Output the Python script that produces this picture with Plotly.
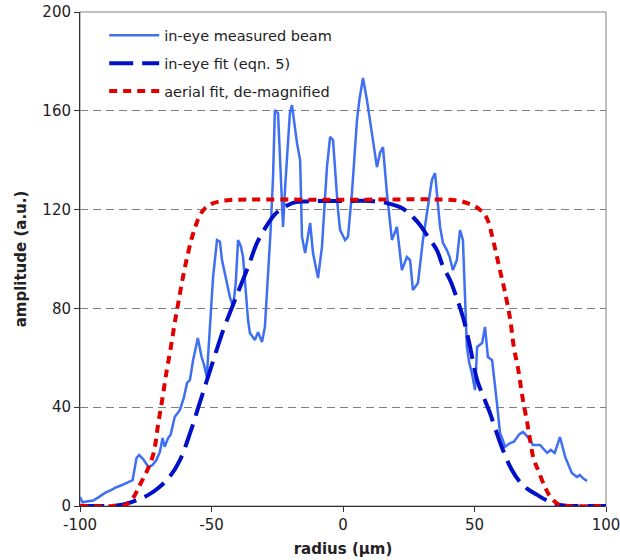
import plotly.graph_objects as go

# measured in-eye beam profile (radius in µm, amplitude in a.u.)
measured_r = [
    -100, -99, -97.5, -95, -93, -90.5, -88, -86.7, -84, -81.7, -80, -78.5, -77.5, -76, -74,
    -72.5, -71, -69.6, -68.6, -67.8, -66.5, -65.5, -64, -62, -60.5, -59.3, -58.2, -57, -55.2,
    -53.8, -52.8, -51.8, -50.6, -49.4, -47.9, -46.8, -46, -44.5, -43, -41.8, -40.8, -39.9,
    -38.8, -38, -36.1, -35.4, -33.5, -32.3, -30.8, -29.7, -28.5, -27.6, -26.6, -25.9, -24.7,
    -23.2, -22.8, -22, -20.2, -19.4, -17.5, -16.3, -15.6, -14.4, -12.5, -11.4, -9.5, -8,
    -6.1, -4.9, -3.8, -1.9, -1.1, 0.8, 1.9, 3.4, 5.3, 6.3, 7.6, 9.1, 10.3, 12.9, 14.1, 15.2,
    16.7, 18.6, 20.5, 22.4, 24.3, 25.5, 26.6, 28.5, 30.4, 32.3, 33.8, 35, 36.9, 38, 39.5,
    40.5, 41.8, 43.3, 44.5, 45.6, 46.3, 47.1, 48, 49, 50.2, 51, 52.9, 54, 55.1, 56.7, 58.5,
    59.7, 60.8, 61.6, 63.5, 65, 67, 68.4, 70.3, 72.2, 74.9, 77.6, 79, 80.5, 82.5, 84.5, 87,
    89, 90, 91.5, 92.8,
]
measured_amp = [
    3.6, 1.5, 1.8, 2.2, 3.5, 5.3, 6.5, 7.3, 8.5, 9.7, 10.5, 19.5, 20.6, 19, 15.8,
    16.5, 18.5, 22, 27.5, 24, 27.5, 29, 36, 38.9, 44, 49.8, 51, 59, 68,
    60.5, 57, 52.2, 72.5, 92.7, 107.7, 107, 99.6, 92, 84.6, 80.6, 90, 107.7,
    105, 100.8, 75.3, 70, 67.2, 70.4, 66.4, 72.5, 92.7, 110, 133, 160.3, 159,
    126.7, 113, 129, 159, 162.3, 147, 140, 109, 102.4, 114.6, 102.4, 92.3, 104.9,
    137.2, 149.4, 148.2, 119.8, 111.7, 107.7, 109, 126.7, 156, 165, 173.3, 164.4, 156.3, 137.2, 143, 145.3,
    126.7, 107.7, 113, 95.5, 100.8, 99.6, 87.4, 90.3, 107.7, 121, 132, 134.8, 113, 106.5, 103.6,
    101, 95.5, 99.6, 111.7, 107.7, 90, 64.4, 58, 53.8, 47, 64.4, 66, 72.5, 60.3, 59, 42,
    29.6, 26.7, 23.9, 25.5, 26, 29, 30, 27.9, 24.7, 24.7, 21.5, 22.7, 21.5, 27.9, 19.8, 13.4,
    11.7, 12.6, 11, 10.2,
]

# in-eye fit (eqn. 5)
fit_r = [
    -100, -90, -86, -82, -78, -74, -70, -66, -62, -58, -55, -52, -49, -45.6, -42, -39, -36,
    -32.7, -29, -26, -23, -19, -15, -10, 0, 10, 15.2, 19, 21.7, 24, 26.6, 29.5, 32.3, 35.7,
    38, 40.7, 43, 45.6, 48, 51, 53.5, 55.9, 58, 60.8, 64, 67.3, 70, 73.8, 78, 82.5, 86, 90, 100,
]
fit_amp = [
    0, 0, 0.2, 1, 2.5, 4.5, 7.5, 11.7, 18.6, 30, 40, 50, 60, 71, 81, 89, 97,
    106.5, 113.5, 118, 120.5, 122.7, 123.3, 123.5, 123.5, 123.5, 123, 122, 121, 119.5, 117, 113.5, 109, 103.6,
    97, 91.5, 85, 76.5, 66, 51, 44, 37.6, 31, 22.7, 15, 9.7, 7, 4.5, 2, 0.4, 0, 0, 0,
]

# aerial fit, de-magnified
aerial_r = [
    -100, -86, -83, -80, -77, -74, -72, -70.3, -68.6, -67, -65.5, -64, -62.5, -60.8, -59,
    -57.5, -56, -54.4, -52.5, -50, -47, -44, -40, 0, 40, 44.5, 47, 50, 52, 53.5, 55, 57,
    58.5, 60, 61.5, 63.5, 65, 66.5, 68.4, 70, 71.1, 72.5, 74, 76.8, 79, 82.5, 85, 100,
]
aerial_amp = [
    0, 0, 0.3, 3, 9, 15.5, 21.5, 33, 44, 55, 64, 74, 83, 93, 102,
    108.5, 113.5, 117.8, 120.5, 122.3, 123.3, 123.8, 124, 124, 124, 123.5, 122.7, 121.5, 120, 118.5, 115.8, 108,
    101, 94, 87, 76, 64, 56, 43, 34, 27, 19, 15, 7.7, 3.5, 0.3, 0, 0,
]

x_ticks = [-100, -50, 0, 50, 100]
y_ticks = [0, 40, 80, 120, 160, 200]

FONT = "DejaVu Sans, Verdana, sans-serif"

fig = go.Figure()
fig.add_trace(go.Scatter(
    x=measured_r, y=measured_amp, mode="lines", name="in-eye measured beam",
    line=dict(color="#3f6ff2", width=2.5), legendgroup="a",
))
fig.add_trace(go.Scatter(
    x=fit_r, y=fit_amp, mode="lines", name="in-eye fit (eqn. 5)",
    line=dict(color="#0010c8", width=4, dash="24px,9px", shape="spline"), legendgroup="b",
))
fig.add_trace(go.Scatter(
    x=aerial_r, y=aerial_amp, mode="lines", name="aerial fit, de-magnified",
    line=dict(color="#e00000", width=4, dash="8px,6px", shape="spline"), legendgroup="c",
))

fig.update_layout(
    width=620, height=560,
    margin=dict(l=80, r=14, t=12, b=54),
    paper_bgcolor="white", plot_bgcolor="white",
    font=dict(family=FONT, size=15, color="#222222"),
    legend=dict(
        x=0.046, y=0.985, xanchor="left", yanchor="top",
        bgcolor="rgba(0,0,0,0)", font=dict(size=14.5),
        traceorder="grouped", tracegroupgap=6, itemwidth=50,
    ),
    xaxis=dict(
        range=[-100, 100], tickvals=x_ticks, ticktext=[str(v) for v in x_ticks],
        ticks="outside", ticklen=5, tickcolor="#333", showgrid=False, zeroline=False,
        showline=True, linecolor="#333", linewidth=1, automargin=False,
        tickfont=dict(size=15), ticklabeloverflow="allow",
        title=dict(text="<b>radius (µm)</b>", font=dict(size=15), standoff=10),
    ),
    yaxis=dict(
        range=[0, 200], tickvals=y_ticks, ticktext=[str(v) for v in y_ticks],
        ticks="outside", ticklen=5, tickcolor="#333", zeroline=False,
        showline=True, linecolor="#333", linewidth=1, automargin=False,
        tickfont=dict(size=15), ticklabeloverflow="allow",
        showgrid=True, gridcolor="#808080", gridwidth=1, griddash="8px,5px",
        title=dict(text="<b>amplitude (a.u.)</b>", font=dict(size=15), standoff=12),
    ),
    shapes=[dict(type="rect", xref="x domain", yref="y domain", x0=0, x1=1, y0=0, y1=1,
                 line=dict(color="#808080", width=1), layer="below")],
)

fig.write_html("out.html")
